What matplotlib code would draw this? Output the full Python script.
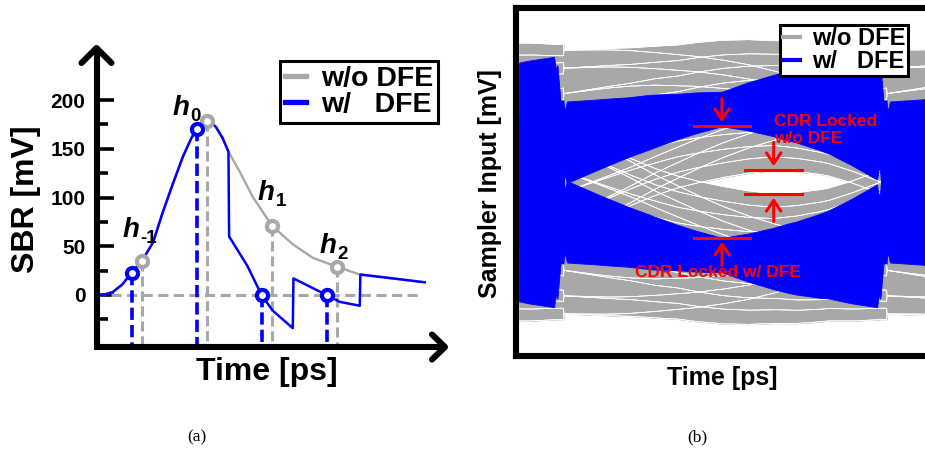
import itertools
import numpy as np
import matplotlib
matplotlib.use("Agg")
import matplotlib.pyplot as plt
from matplotlib.lines import Line2D

plt.rcParams["font.family"] = ["Liberation Sans", "DejaVu Sans"]
plt.rcParams["font.weight"] = "bold"

# ---------------- single-bit response (time in UI, amplitude in mV) ----------------
t_wo = [0.05, 0.15, 0.25, 0.40, 0.54, 0.70, 0.87, 1.02, 1.18, 1.33, 1.46, 1.54,
        1.62, 1.70, 1.77, 1.84, 1.94, 2.03, 2.20, 2.40, 2.70, 3.02, 3.33, 3.70,
        4.05, 4.56, 5.05]
sbr_wo = [0, 1, 3, 11, 23, 35, 54, 85, 115, 142, 161, 170,
          176, 178, 177, 172, 161, 147, 127, 101, 71, 52, 38, 29,
          21, 17, 13]

t_w = [0.05, 0.15, 0.25, 0.40, 0.54, 0.70, 0.87, 1.02, 1.18, 1.33, 1.46, 1.54,
       1.62, 1.70, 1.77, 1.84, 1.94, 2.03, 2.04, 2.32, 2.54, 2.71, 3.02, 3.03,
       3.54, 3.74, 4.05, 4.06, 4.56, 5.05]
sbr_w = [0, 1, 3, 11, 23, 35, 54, 85, 115, 142, 161, 170,
         176, 178, 177, 172, 161, 147, 60, 30, 0, -16, -34, 17,
         0, -7, -11, 21, 17, 13]

cursor_t_wo = [0.70, 1.70, 2.70, 3.70]
cursor_wo = [35, 178, 71, 29]
cursor_t_w = [0.54, 1.54, 2.54, 3.54]
cursor_w = [23, 170, 0, 0]
cursor_subs = ["-1", "0", "1", "2"]

legend_labels = ["w/o DFE", "w/   DFE"]

GRAY = "#a8a8a8"
BLUE = "#0000ff"
RED = "#ff0000"

W, H = 925, 450
fig = plt.figure(figsize=(W / 100, H / 100), dpi=100)


def fx(px):
    return px / W


def fy(py):
    return 1 - py / H


# ================= (a) pulse response =================
axA = fig.add_axes([fx(96.5), fy(347), fx(445 - 96.5), (347 - 48) / H])
ppx = 65.0      # pixels per UI
ppm = 0.975     # pixels per mV
xmax = (445 - 96.5) / ppx
ymax = (295 - 48) / ppm
ymin = -(347 - 295) / ppm
axA.set_xlim(0, xmax)
axA.set_ylim(ymin, ymax)
for s in axA.spines.values():
    s.set_visible(False)
axA.patch.set_visible(False)

# axes with arrow heads
axA.plot([0, 0, xmax], [ymax, ymin, ymin], color="black", lw=4.4,
         solid_joinstyle="miter", solid_capstyle="butt", clip_on=False, zorder=6)
axA.plot([-15 / ppx, 0, 15 / ppx], [ymax - 15 / ppm, ymax, ymax - 15 / ppm],
         color="black", lw=4.4, solid_joinstyle="round", solid_capstyle="round",
         clip_on=False, zorder=6)
axA.plot([xmax - 13 / ppx, xmax, xmax - 13 / ppx], [ymin + 12.5 / ppm, ymin, ymin - 12.5 / ppm],
         color="black", lw=4.4, solid_joinstyle="round", solid_capstyle="round",
         clip_on=False, zorder=6)

axA.set_yticks([0, 50, 100, 150, 200])
axA.set_yticks([-25, 25, 75, 125, 175], minor=True)
axA.set_xticks([])
axA.tick_params(axis="y", which="major", direction="in", length=12, width=2.6,
                pad=8, labelsize=15, left=True)
axA.tick_params(axis="y", which="minor", direction="in", length=8, width=2.6, left=True)
for lab in axA.get_yticklabels():
    lab.set_fontweight("bold")

# zero reference
axA.plot([0.22, 5.0], [0, 0], color=GRAY, lw=2.2, dashes=(3.3, 1.8), zorder=2)

# cursor drop lines
for t, v in zip(cursor_t_wo, cursor_wo):
    axA.plot([t, t], [v, ymin], color=GRAY, lw=2.2, dashes=(3.3, 1.6), zorder=2)
for t, v in zip(cursor_t_w, cursor_w):
    axA.plot([t, t], [v, ymin], color=BLUE, lw=2.6, dashes=(3.4, 1.4), zorder=3)

axA.plot(t_wo, sbr_wo, color=GRAY, lw=1.7, zorder=3)
axA.plot(t_w, sbr_w, color=BLUE, lw=1.8, zorder=4)

axA.plot(cursor_t_wo, cursor_wo, ls="none", marker="o", ms=8, mew=3,
         mfc="white", mec=GRAY, zorder=5)
axA.plot(cursor_t_w, cursor_w, ls="none", marker="o", ms=8, mew=3,
         mfc="white", mec=BLUE, zorder=5)

# cursor names: italic "h" with an upright subscript
name_pos = [(0.669, 59.5), (1.438, 184.6), (2.746, 97.4), (3.70, 43.1)]
for sub, (x, y) in zip(cursor_subs, name_pos):
    axA.text(x, y, "h", fontsize=20, fontstyle="italic", fontweight="bold",
             ha="right", va="baseline", zorder=7)
    axA.annotate(sub, xy=(x, y), xytext=(0.3, -4.5), textcoords="offset points",
                 fontsize=13.5, fontweight="bold", ha="left", va="baseline", zorder=7)

handlesA = [Line2D([], [], color=GRAY, lw=3.8), Line2D([], [], color=BLUE, lw=3.8)]
legA = fig.legend(handlesA, legend_labels, loc="upper right",
                  bbox_to_anchor=(fx(438), fy(61)), bbox_transform=fig.transFigure,
                  prop={"size": 20.5, "weight": "bold"}, frameon=True, fancybox=False,
                  edgecolor="black", framealpha=1, borderpad=0.18, labelspacing=0.0,
                  handlelength=0.75, handletextpad=0.5, borderaxespad=0)
legA.get_frame().set_linewidth(2.2)

fig.text(fx(26), fy(199), "SBR [mV]", rotation=90, fontsize=23, fontweight="bold",
         ha="center", va="center")
fig.text(fx(267), fy(372), "Time [ps]", fontsize=23, fontweight="bold",
         ha="center", va="center")

# ================= (b) eye diagram =================
ui_px = 323.0
tb = 1.54            # sampling phase with DFE
tg = 1.70            # sampling phase without DFE
ref_px = 722.0


def px_to_phase(px):
    return tb + (px - ref_px) / ui_px


axB = fig.add_axes([fx(516), fy(356), fx(940 - 516), (356 - 8) / H])
axB.set_xlim(px_to_phase(516), px_to_phase(940))
axB.set_ylim(-405, 405)
axB.set_xticks([])
axB.set_yticks([])
for s in axB.spines.values():
    s.set_linewidth(4.4)
    s.set_zorder(10)

phase = np.linspace(px_to_phase(519), px_to_phase(940), 900)
offsets = list(range(-2, 5))
bits = np.array(list(itertools.product((-1, 1), repeat=len(offsets))))
i_cur = offsets.index(0)


def eye_traces(t, v):
    shifted = np.array([np.interp(phase + k, t, v, left=0, right=0) for k in offsets])
    return bits @ shifted


def bit_bands(traces):
    out = []
    for b in (-1, 1):
        m = bits[:, i_cur] == b
        out.append((traces[m].min(axis=0), traces[m].max(axis=0)))
    return out


eye_wo = eye_traces(t_wo, sbr_wo)
eye_w = eye_traces(t_w, sbr_w)

for lo, hi in bit_bands(eye_wo):
    axB.fill_between(phase, lo, hi, color=GRAY, lw=0.4, zorder=2)
axB.plot(phase, eye_wo.T, color="white", lw=0.5, alpha=0.75, zorder=2.5)
for lo, hi in bit_bands(eye_w):
    axB.fill_between(phase, lo, hi, color=BLUE, lw=0.6, zorder=3)


def inner_edges(traces, t0):
    i = np.argmin(np.abs(phase - t0))
    col = traces[:, i]
    return col[col > 0].min(), col[col < 0].max()


wt, wb = inner_edges(eye_w, tb)
gt, gb = inner_edges(eye_wo, tg)
half = 28.5 / ui_px
arrow = dict(arrowstyle="->,head_length=0.38,head_width=0.26", color=RED, lw=2.2,
             shrinkA=0, shrinkB=3, mutation_scale=20)

for (x0, top, bot) in [(tb, wt, wb), (tg, gt, gb)]:
    for y in (top, bot):
        axB.plot([x0 - half, x0 + half], [y, y], color=RED, lw=2.2, zorder=6)
    axB.annotate("", xy=(x0, top), xytext=(0, 20), textcoords="offset points",
                 arrowprops=arrow, zorder=6)
    axB.annotate("", xy=(x0, bot), xytext=(0, -20), textcoords="offset points",
                 arrowprops=arrow, zorder=6)

axB.annotate("CDR Locked\nw/o DFE", xy=(tg, gt), xytext=(0, 29), textcoords="offset points",
             color=RED, fontsize=12.5, fontweight="bold", ha="left", va="center",
             linespacing=1.15, zorder=7)
axB.annotate("CDR Locked w/ DFE", xy=(tb, wb), xytext=(-3, -25), textcoords="offset points",
             color=RED, fontsize=12.5, fontweight="bold", ha="center", va="center", zorder=7)

handlesB = [Line2D([], [], color=GRAY, lw=3.0), Line2D([], [], color=BLUE, lw=3.0)]
legB = fig.legend(handlesB, legend_labels, loc="upper right",
                  bbox_to_anchor=(fx(908), fy(25)), bbox_transform=fig.transFigure,
                  prop={"size": 17, "weight": "bold"}, frameon=True, fancybox=False,
                  edgecolor="black", framealpha=1, borderpad=0.1, labelspacing=0.0,
                  handlelength=0.75, handletextpad=0.5, borderaxespad=0)
legB.get_frame().set_linewidth(2.2)
legB.set_zorder(20)

fig.text(fx(490), fy(184), "Sampler Input [mV]", rotation=90, fontsize=18,
         fontweight="bold", ha="center", va="center")
fig.text(fx(722), fy(378), "Time [ps]", fontsize=18, fontweight="bold",
         ha="center", va="center")

fig.text(fx(197), fy(437), "(a)", fontsize=12.5, family="Liberation Serif",
         fontweight="normal", ha="center", va="center")
fig.text(fx(697), fy(437), "(b)", fontsize=12.5, family="Liberation Serif",
         fontweight="normal", ha="center", va="center")

fig.savefig("out.png", dpi=100)
